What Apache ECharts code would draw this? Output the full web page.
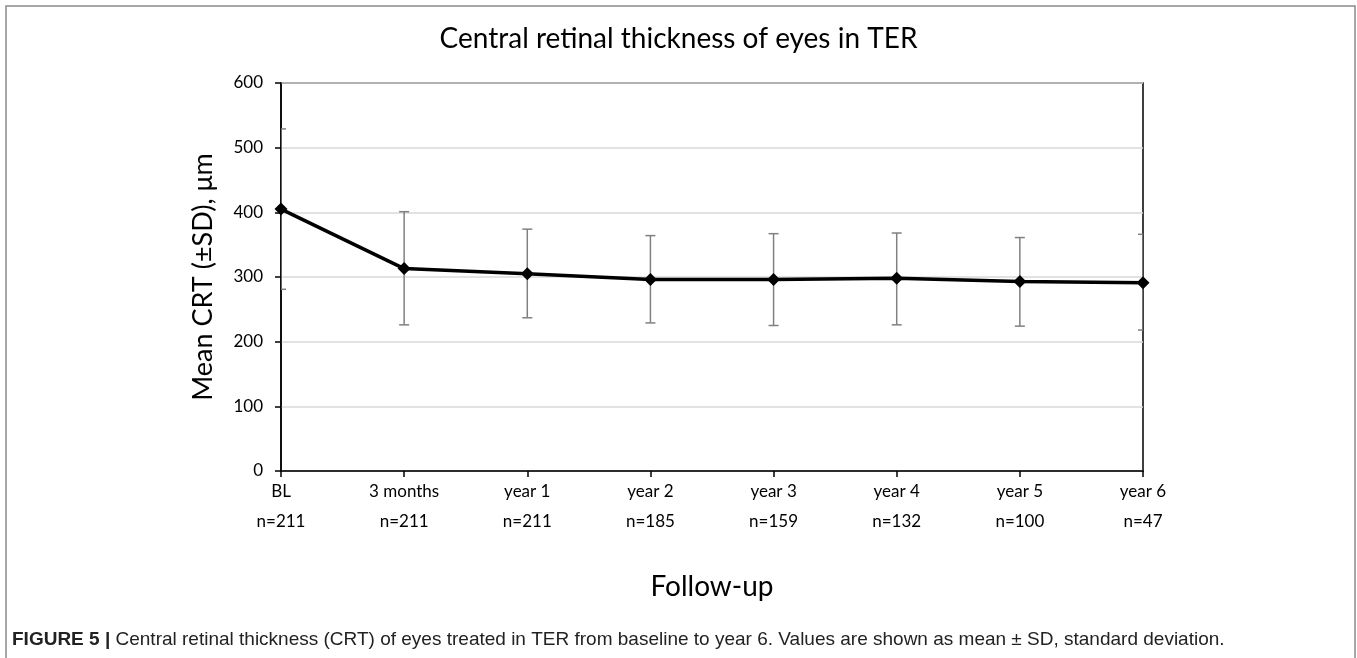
<!DOCTYPE html>
<html>
<head>
<meta charset="utf-8">
<script src="https://cdn.jsdelivr.net/npm/echarts@6/dist/echarts.min.js"></script>
<style>
  html, body { margin: 0; padding: 0; background: #fff; }
  #main { width: 1357px; height: 658px; }
</style>
</head>
<body>
<div id="main"></div>
<script>
// follow-up points and number of eyes
var categories = ['BL', '3 months', 'year 1', 'year 2', 'year 3', 'year 4', 'year 5', 'year 6']
var nEyes = [211, 211, 211, 185, 159, 132, 100, 47]
// mean CRT and the ends of the SD bars (µm)
var meanCRT = [405, 313, 305, 296, 296, 298, 293, 291]
var sdUpper = [529, 401, 374, 364, 367, 368, 361, 366]
var sdLower = [281, 226, 237, 229, 225, 226, 224, 218]
var yTicks = [0, 100, 200, 300, 400, 500, 600]

var font = 'Lato'

var chart = echarts.init(document.getElementById('main'))

var errorData = categories.map(function (c, i) {
  return [i, sdLower[i], sdUpper[i]]
})

var option = {
  animation: false,
  backgroundColor: '#fff',
  title: {
    text: 'Central retinal thickness of eyes in TER',
    left: 'center',
    top: 20,
    textStyle: { fontFamily: font, fontWeight: 'normal', fontSize: 28, color: '#000' }
  },
  grid: {
    left: 281,
    right: 214,
    top: 83,
    bottom: 187,
    show: true,
    borderColor: '#000',
    borderWidth: 1.5
  },
  xAxis: {
    type: 'category',
    data: categories,
    boundaryGap: false,
    name: 'Follow-up',
    nameLocation: 'middle',
    nameGap: 102,
    nameTextStyle: { fontFamily: font, fontSize: 28, color: '#000' },
    axisLine: { lineStyle: { color: '#000', width: 1.5 } },
    axisTick: { show: true, length: 6, lineStyle: { color: '#000', width: 1.5 } },
    axisLabel: {
      fontFamily: font,
      fontSize: 17,
      color: '#000',
      lineHeight: 30,
      margin: 6,
      interval: 0,
      formatter: function (v, i) { return v + '\nn=' + nEyes[i] }
    }
  },
  yAxis: {
    type: 'value',
    min: yTicks[0],
    max: yTicks[yTicks.length - 1],
    interval: 100,
    name: 'Mean CRT (±SD), μm',
    nameLocation: 'middle',
    nameGap: 64,
    nameTextStyle: { fontFamily: font, fontSize: 27, color: '#000' },
    axisLine: { show: true, lineStyle: { color: '#000', width: 1.5 } },
    axisTick: { show: true, length: 6, lineStyle: { color: '#000', width: 1.5 } },
    axisLabel: { fontFamily: font, fontSize: 17, color: '#000', margin: 18 },
    splitLine: { lineStyle: { color: '#d9d9d9', width: 1.5 } }
  },
  series: [
    {
      type: 'custom',
      name: 'SD',
      clip: true,
      z: 2,
      renderItem: function (params, api) {
        var x = api.value(0)
        var lo = api.coord([x, api.value(1)])
        var hi = api.coord([x, api.value(2)])
        var w = 5
        var style = { stroke: '#808080', lineWidth: 1.5 }
        return {
          type: 'group',
          children: [
            { type: 'line', shape: { x1: hi[0], y1: hi[1], x2: lo[0], y2: lo[1] }, style: style },
            { type: 'line', shape: { x1: hi[0] - w, y1: hi[1], x2: hi[0] + w, y2: hi[1] }, style: style },
            { type: 'line', shape: { x1: lo[0] - w, y1: lo[1], x2: lo[0] + w, y2: lo[1] }, style: style }
          ]
        }
      },
      encode: { x: 0, y: [1, 2] },
      data: errorData
    },
    {
      type: 'line',
      name: 'Mean CRT',
      z: 3,
      data: meanCRT,
      symbol: 'diamond',
      symbolSize: 13,
      itemStyle: { color: '#000' },
      lineStyle: { color: '#000', width: 3.5 }
    }
  ],
  graphic: [
    {
      type: 'rect',
      silent: true,
      shape: { x: 6, y: 6, width: 1349, height: 700 },
      style: { fill: 'none', stroke: '#8a8a8a', lineWidth: 1.5 }
    },
    {
      type: 'text',
      left: 12,
      top: 630,
      style: {
        text: '{b|FIGURE 5 |} Central retinal thickness (CRT) of eyes treated in TER from baseline to year 6. Values are shown as mean ± SD, standard deviation.',
        fill: '#222',
        font: '19px "Liberation Sans"',
        rich: {
          b: { fontFamily: 'Liberation Sans', fontWeight: 'bold', fontSize: 19, fill: '#222' }
        }
      }
    }
  ]
}

chart.setOption(option)
</script>
</body>
</html>
